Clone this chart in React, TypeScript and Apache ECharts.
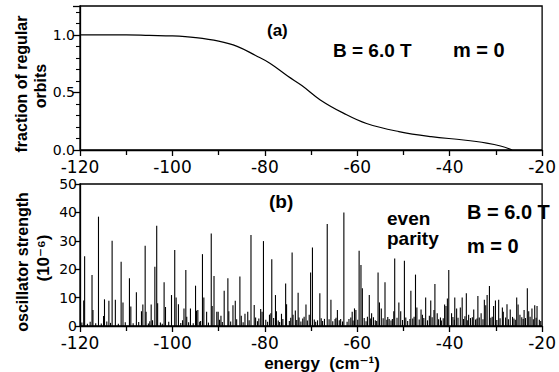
import React, { useEffect, useRef } from "react";
import * as echarts from "echarts";

// (a) fraction of regular orbits vs energy
const curveEnergy = [-120, -110, -105, -100, -95, -90, -86, -82, -79, -75, -72, -68, -63, -58, -51, -44, -37, -32, -29, -26.5];
const curveFraction = [1.0, 1.0, 0.995, 0.99, 0.975, 0.945, 0.9, 0.82, 0.755, 0.64, 0.56, 0.435, 0.32, 0.23, 0.16, 0.116, 0.087, 0.06, 0.035, 0.0];

// (b) oscillator strengths (10^-6): resolved lines
const lineEnergy = [
  -119.2, -119.0, -117.4, -117.2, -116.0, -114.9, -114.7, -113.75, -113.05, -112.35, -111.1, -110.7, -109.3, -109.0,
  -107.8, -106.7, -106.4, -105.9, -105.7, -104.6, -104.3, -103.8, -103.4, -103.2, -101.8, -101.5, -100.2, -99.5,
  -99.2, -98.7, -97.5, -97.1, -96.9, -96.1, -95.0, -94.8, -94.5, -94.1, -93.5, -93.2, -92.6, -91.6, -91.4, -91.0,
  -90.4, -90.1, -89.5, -88.8, -88.0, -87.8, -86.9, -86.4, -85.4, -85.1, -84.3, -83.7, -83.0, -82.3, -82.0, -80.9,
  -80.6, -80.3, -79.0, -78.7, -78.5, -77.7, -77.5, -76.4, -75.5, -75.3, -74.1, -73.9, -73.4, -72.8, -72.6, -71.5,
  -71.1, -70.4, -70.1, -69.7, -68.6, -68.1, -67.1, -66.5, -65.7, -64.8, -64.3, -63.6, -62.9, -62.2, -61.1, -60.6,
  -60.3, -59.6, -59.2, -58.9, -57.8, -57.4, -56.9, -55.5, -55.2, -54.8, -54.0, -53.1, -52.1, -51.9, -51.0, -50.6,
  -49.8, -48.6, -48.4, -47.4, -47.1, -46.2, -45.9, -45.2, -44.4, -44.1, -43.4, -43.2, -42.7, -42.0, -41.1, -40.8,
  -40.5, -40.2, -39.6, -38.9, -38.5, -37.7, -37.3, -36.4, -35.9, -34.8, -33.9, -33.2, -32.5, -32.2, -31.9, -31.4,
  -30.5, -30.1, -29.4, -28.6, -28.4, -27.6, -26.9, -25.5, -25.2, -24.8, -23.9, -23.2, -22.9, -22.2, -21.6, -21.1
];
const lineStrength = [
  9, 24.6, 18, 5.6, 38.5, 3.5, 9.4, 8.9, 30, 9.2, 22.6, 8.3, 16.8, 6.9,
  11.9, 5.2, 7.6, 28.3, 5, 7.6, 2, 20.9, 35.3, 8, 15.4, 6.7, 10.9, 26.8,
  10, 7.7, 6.2, 19.7, 3.3, 6.2, 14.2, 5.4, 5.6, 1.5, 25.3, 10, 5, 32.6, 7, 17.6,
  5, 5, 3.6, 12.4, 16.8, 5.2, 7.3, 8.9, 17.4, 3.6, 4.3, 5, 32, 7.4, 3, 6,
  5, 29.9, 4, 4.5, 23.5, 10.9, 5.2, 4.3, 15, 7.7, 25.9, 4, 5.5, 11.7, 3, 3.3,
  7.6, 4, 18.8, 27.6, 2, 11.5, 2.5, 35.9, 9.2, 2.5, 5.6, 2.5, 40, 1.5, 5, 6.2,
  5.6, 26.5, 21.5, 13.3, 3.3, 10.9, 4.5, 18.8, 8.3, 6.2, 15.4, 2.5, 5.2, 23.8, 8.3, 5.2,
  23, 2.5, 12.4, 18.1, 6.5, 5.8, 4, 10, 3.6, 9, 5.6, 14.8, 4.5, 3, 7.6, 7,
  9.7, 19.7, 4.5, 10, 6.2, 6.5, 10, 11.5, 4, 5.8, 10.6, 4.5, 9.2, 7.3, 10.9, 14.1,
  7, 9, 9.2, 6.5, 5, 7.7, 5.8, 10, 7.6, 4, 5.6, 13.3, 5.2, 6.2, 7.3, 7
];

// (b) weak lines forming the dense base
const weakEnergy = [
  -119.6, -118.4, -117.8, -116.6, -115.4, -114.2, -113.4, -111.7, -110.2, -108.5, -107.3, -105.2, -104.9, -102.6,
  -102.2, -100.8, -98.2, -97.8, -96.5, -95.5, -93.9, -92.2, -89.8, -89.2, -87.4, -86.1, -84.7, -83.4, -81.6, -81.3,
  -79.8, -79.4, -78.1, -77.1, -76.8, -76.1, -74.7, -74.4, -73.1, -72.2, -71.8, -70.8, -69.3, -69.0, -67.8, -67.5,
  -66.1, -65.3, -64.6, -63.9, -63.2, -61.8, -61.4, -60.9, -59.9, -58.5, -58.1, -57.1, -56.5, -56.1, -55.8, -54.4,
  -53.6, -53.4, -52.7, -52.4, -51.4, -50.2, -49.5, -49.1, -48.0, -47.7, -46.6, -45.6, -44.8, -43.8, -42.4, -41.8,
  -41.4, -39.3, -39.0, -38.2, -37.0, -36.7, -36.1, -35.5, -35.1, -34.4, -34.1, -33.6, -32.8, -31.1, -30.8, -29.8,
  -29.1, -27.9, -27.3, -26.4, -26.1, -25.8, -24.4, -24.1, -23.6, -22.6, -21.9, -21.3, -20.6, -20.3
];
const weakStrength = [
  1.2, 0.8, 1.5, 1.0, 0.9, 1.6, 1.1, 0.8, 1.3, 1.0, 1.4, 0.9, 1.7, 1.2,
  0.8, 1.5, 1.1, 2.0, 1.3, 1.0, 1.8, 1.2, 2.2, 1.4, 1.6, 2.4, 1.3, 2.0, 1.7, 2.6,
  2.2, 1.5, 2.8, 1.9, 1.4, 2.5, 1.8, 2.9, 2.1, 1.6, 2.6, 1.9, 2.3, 1.5, 2.7, 1.8,
  2.4, 1.7, 2.9, 2.0, 1.6, 2.5, 3.0, 1.9, 2.2, 2.8, 1.7, 2.6, 3.1, 2.0, 1.8, 2.7,
  2.2, 3.2, 1.9, 2.5, 2.9, 2.1, 3.0, 1.8, 2.6, 3.3, 2.3, 2.8, 2.0, 3.1, 2.4, 1.9,
  2.7, 3.2, 2.2, 2.9, 2.5, 3.4, 2.0, 2.8, 3.1, 2.3, 2.6, 3.0, 2.4, 2.9, 3.3, 2.1,
  2.7, 3.0, 2.4, 3.2, 2.6, 2.2, 3.1, 2.5, 2.8, 3.3, 2.4, 2.9, 2.2, 1.8
];

const xTicks = { min: -120, max: -20, interval: 20 };

const FONT = "DejaVu Sans, Liberation Sans, sans-serif";
const BOLD = "Liberation Sans, DejaVu Sans, sans-serif";

export default function App() {
  const ref = useRef<HTMLDivElement>(null);

  useEffect(() => {
    if (!ref.current) return;
    const chart = echarts.init(ref.current, undefined, { renderer: "svg" });

    const spectrum = lineEnergy.map((e, i) => [e, lineStrength[i]]).concat(weakEnergy.map((e, i) => [e, weakStrength[i]]));
    const curve = curveEnergy.map((e, i) => [e, curveFraction[i]]);

    const axisLine = { lineStyle: { color: "#000", width: 1.3 } };
    const xAxisCommon = (top: boolean) => ({
      type: "value",
      min: xTicks.min,
      max: xTicks.max,
      interval: xTicks.interval,
      axisLine,
      axisTick: { show: true, inside: false, length: 6, lineStyle: { color: "#000", width: 1.3 } },
      minorTick: { show: true, splitNumber: 2, length: 5, lineStyle: { color: "#000", width: 1.3 } },
      splitLine: { show: false },
      axisLabel: {
        color: "#000",
        fontFamily: FONT,
        fontSize: 17,
        lineHeight: 16,
        margin: top ? 9 : 9,
        formatter: (v: number) => (v < 0 ? "-" + Math.abs(v) : String(v)),
      },
    });

    const text = (x: number, y: number, t: string, size: number, align = "left", rot = 0) => ({
      type: "text",
      x,
      y,
      rotation: rot,
      style: {
        text: t,
        fill: "#000",
        font: `bold ${size}px ${BOLD}`,
        align,
        verticalAlign: "middle",
      },
    });

    chart.setOption({
      animation: false,
      backgroundColor: "#fff",
      grid: [
        { left: 80, top: 6, width: 475, height: 144, show: true, borderColor: "#000", borderWidth: 1.3, backgroundColor: "transparent" },
        { left: 80, top: 184, width: 475, height: 142, show: true, borderColor: "#000", borderWidth: 1.3, backgroundColor: "transparent" },
      ],
      xAxis: [
        { ...xAxisCommon(true), gridIndex: 0 },
        { ...xAxisCommon(false), gridIndex: 1 },
      ],
      yAxis: [
        {
          type: "value",
          gridIndex: 0,
          min: 0,
          max: 1.25,
          interval: 0.5,
          axisLine,
          axisTick: { show: true, length: 7, lineStyle: { color: "#000", width: 1.3 } },
          minorTick: { show: true, splitNumber: 5, length: 4, lineStyle: { color: "#000", width: 1.1 } },
          splitLine: { show: false },
          axisLabel: {
            color: "#000",
            fontFamily: FONT,
            fontSize: 14,
            lineHeight: 12,
            margin: 5,
            showMaxLabel: false,
            formatter: (v: number) => (v > 1.2 ? "" : v.toFixed(1)),
          },
        },
        {
          type: "value",
          gridIndex: 1,
          min: 0,
          max: 50,
          interval: 10,
          axisLine,
          axisTick: { show: true, length: 5, lineStyle: { color: "#000", width: 1.3 } },
          splitLine: { show: false },
          axisLabel: { color: "#000", fontFamily: FONT, fontSize: 14, lineHeight: 12, margin: 3 },
        },
      ],
      series: [
        {
          type: "line",
          xAxisIndex: 0,
          yAxisIndex: 0,
          data: curve,
          smooth: 0.4,
          symbol: "none",
          lineStyle: { color: "#000", width: 1.2 },
        },
        {
          type: "custom",
          xAxisIndex: 1,
          yAxisIndex: 1,
          data: spectrum,
          encode: { x: 0, y: 1 },
          renderItem: (_params: any, api: any) => {
            const x = api.value(0);
            const y = api.value(1);
            const p0 = api.coord([x, 0]);
            const p1 = api.coord([x, y]);
            return {
              type: "line",
              shape: { x1: p0[0], y1: p0[1], x2: p1[0], y2: p1[1] },
              style: { stroke: "#000", lineWidth: 1.1 },
            };
          },
        },
      ],
      graphic: [
        text(21, 84, "fraction of regular", 16, "center", Math.PI / 2),
        text(40, 86, "orbits", 16, "center", Math.PI / 2),
        text(267, 30, "(a)", 17),
        text(333, 50, "B = 6.0 T", 19),
        text(453, 50, "m = 0", 20),
        text(22, 262, "oscillator strength", 16, "center", Math.PI / 2),
        text(43, 258, "(10\u207B\u2076)", 17, "center", Math.PI / 2),
        text(269, 201, "(b)", 19),
        text(387, 218, "even", 19),
        text(387, 238, "parity", 19),
        text(467, 212, "B = 6.0 T", 20),
        text(467, 246, "m = 0", 20),
        text(322, 363, "energy  (cm\u207B\u00B9)", 17, "center"),
      ],
    });

    return () => chart.dispose();
  }, []);

  return <div ref={ref} style={{ position: "fixed", left: 0, top: 0, width: 559, height: 372 }} />;
}
